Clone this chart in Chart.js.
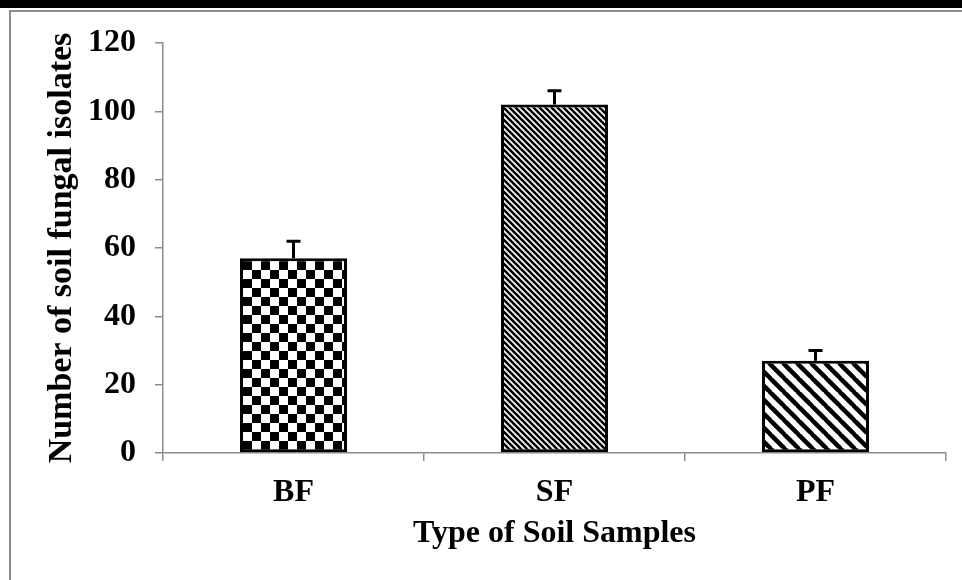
<!DOCTYPE html>
<html>
<head>
<meta charset="utf-8">
<script src="https://cdn.jsdelivr.net/npm/chart.js@4/dist/chart.umd.min.js"></script>
<style>
  html, body { margin: 0; padding: 0; background: #fff; }
  #wrap { position: relative; width: 962px; height: 580px; overflow: hidden; }
  #band { position: absolute; left: 0; top: 0; width: 962px; height: 8px; background: #000; }
  #frame { position: absolute; left: 9px; top: 10px; width: 970px; height: 600px;
           border-top: 2px solid #8c8c8c; border-left: 2px solid #8c8c8c; }
  #chart { position: absolute; left: 0; top: 0; }
</style>
</head>
<body>
<div id="wrap">
  <div id="band"></div>
  <div id="frame"></div>
  <canvas id="chart" width="962" height="580"></canvas>
</div>
<script>
// soil samples: bar heights and upper error bars
const sampleTypes = ["BF", "SF", "PF"];
const isolateCounts = [57, 102, 27];
const errorValues = [5, 4, 3];
const yTicks = [0, 20, 40, 60, 80, 100, 120];

const FONT = "'Liberation Serif', 'Times New Roman', serif";

// fill patterns for the three bars
function checkerPattern(ctx, size) {
  const c = document.createElement("canvas");
  c.width = c.height = size * 2;
  const g = c.getContext("2d");
  g.fillStyle = "#fff";
  g.fillRect(0, 0, size * 2, size * 2);
  g.fillStyle = "#000";
  g.fillRect(0, 0, size, size);
  g.fillRect(size, size, size, size);
  return ctx.createPattern(c, "repeat");
}

function stripePattern(ctx, period, width) {
  const c = document.createElement("canvas");
  c.width = c.height = period;
  const g = c.getContext("2d");
  g.fillStyle = "#fff";
  g.fillRect(0, 0, period, period);
  g.strokeStyle = "#000";
  g.lineWidth = width;
  for (let k = -1; k <= 1; k++) {
    g.beginPath();
    g.moveTo(k * period - 1, -1);
    g.lineTo(k * period + period + 1, period + 1);
    g.stroke();
  }
  return ctx.createPattern(c, "repeat");
}

// draws the upper half of each error bar with a cap
const errorBars = {
  id: "errorBars",
  afterDatasetsDraw(chart) {
    const ctx = chart.ctx;
    const y = chart.scales.y;
    const meta = chart.getDatasetMeta(0);
    ctx.save();
    ctx.strokeStyle = "#000";
    ctx.lineWidth = 3;
    meta.data.forEach((bar, i) => {
      const top = y.getPixelForValue(isolateCounts[i] + errorValues[i]);
      ctx.beginPath();
      ctx.moveTo(bar.x, bar.y);
      ctx.lineTo(bar.x, top);
      ctx.moveTo(bar.x - 7, top);
      ctx.lineTo(bar.x + 7, top);
      ctx.stroke();
    });
    ctx.restore();
  }
};

const canvas = document.getElementById("chart");
const ctx = canvas.getContext("2d");

new Chart(canvas, {
  type: "bar",
  data: {
    labels: sampleTypes,
    datasets: [{
      data: isolateCounts,
      backgroundColor: [
        checkerPattern(ctx, 9),
        stripePattern(ctx, 6, 2.6),
        stripePattern(ctx, 14, 4.5)
      ],
      borderColor: "#000",
      borderWidth: 3,
      borderSkipped: false,
      categoryPercentage: 1,
      barPercentage: 0.41
    }]
  },
  options: {
    responsive: false,
    animation: false,
    layout: { padding: { left: 0, top: 43, right: 16, bottom: 0 } },
    plugins: { legend: { display: false }, tooltip: { enabled: false } },
    scales: {
      x: {
        afterFit: s => { s.height = 127; },
        grid: { drawOnChartArea: false, drawTicks: true, tickLength: 8, color: "#8c8c8c", lineWidth: 1.5 },
        border: { display: true, color: "#8c8c8c", width: 1.5 },
        ticks: { color: "#000", padding: 13, font: { family: FONT, size: 32, weight: "bold" } },
        title: {
          display: true, text: "Type of Soil Samples", color: "#000",
          padding: { top: 0, bottom: 27 },
          font: { family: FONT, size: 32, weight: "bold" }
        }
      },
      y: {
        min: 0, max: 120,
        afterFit: s => { s.width = 163; },
        afterBuildTicks: s => { s.ticks = yTicks.map(v => ({ value: v })); },
        grid: { drawOnChartArea: false, drawTicks: true, tickLength: 8, color: "#8c8c8c", lineWidth: 1.5 },
        border: { display: true, color: "#8c8c8c", width: 1.5 },
        ticks: { color: "#000", padding: 19, font: { family: FONT, size: 32, weight: "bold" } },
        title: {
          display: true, text: "Number of soil fungal isolates", color: "#000",
          padding: { top: 42, bottom: 0 },
          font: { family: FONT, size: 34, weight: "bold" }
        }
      }
    }
  },
  plugins: [errorBars]
});
</script>
</body>
</html>
